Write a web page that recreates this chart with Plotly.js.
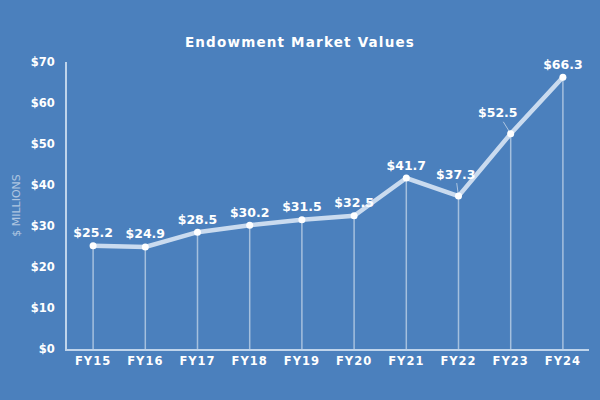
<!DOCTYPE html>
<html>
<head>
<meta charset="utf-8">
<script src="https://cdn.plot.ly/plotly-3.0.1.min.js"></script>
<style>
html,body{margin:0;padding:0;background:#4b80bd;}
#chart{width:600px;height:400px;}
#chart .gtitle{letter-spacing:1.2px;}
#chart .xtick text{letter-spacing:1px;}
</style>
</head>
<body>
<div id="chart"></div>
<script>
const categories = ["FY15","FY16","FY17","FY18","FY19","FY20","FY21","FY22","FY23","FY24"];
const values = [25.2, 24.9, 28.5, 30.2, 31.5, 32.5, 41.7, 37.3, 52.5, 66.3];
const yTickVals = [0,10,20,30,40,50,60,70];
const yTickText = yTickVals.map(v => "$" + v);
const calloutCats = ["FY22","FY23"];   // labels drawn with a leader line

const bg = "#4b80bd";
const labelFont = {family: "DejaVu Sans", size: 12.5, color: "#ffffff", weight: "bold"};
const labels = values.map(v => "$" + v.toFixed(1));

const trace = {
  type: "scatter",
  mode: "lines+markers+text",
  x: categories,
  y: values,
  line: {color: "rgba(225,235,248,0.85)", width: 4.5},
  marker: {color: "#ffffff", size: 7},
  text: labels.map((t, i) => calloutCats.includes(categories[i]) ? "" : t),
  textposition: "top center",
  textfont: labelFont,
  error_y: {
    type: "data", symmetric: false,
    array: values.map(() => 0),
    arrayminus: values,
    width: 0, thickness: 1.5,
    color: "rgba(255,255,255,0.5)"
  },
  hoverinfo: "skip",
  cliponaxis: false
};

const calloutOffsets = {FY22: [-3, -22], FY23: [-13, -21]};
const annotations = calloutCats.map(c => {
  const i = categories.indexOf(c);
  return {
    x: c, y: values[i], xref: "x", yref: "y",
    text: labels[i], font: labelFont,
    showarrow: true, arrowhead: 0, arrowwidth: 1,
    arrowcolor: "rgba(255,255,255,0.55)",
    ax: calloutOffsets[c][0], ay: calloutOffsets[c][1],
    standoff: 3
  };
});

const layout = {
  width: 600, height: 400,
  paper_bgcolor: bg, plot_bgcolor: bg,
  margin: {l: 67, r: 11, t: 62, b: 51},
  showlegend: false,
  annotations: annotations,
  title: {
    text: "Endowment Market Values",
    x: 0.5, xanchor: "center", y: 0.895, yanchor: "middle",
    font: {family: "DejaVu Sans", size: 13.5, color: "#ffffff", weight: "bold"}
  },
  xaxis: {
    type: "category",
    range: [-0.5, 9.5],
    showgrid: false, zeroline: false,
    showline: true, linecolor: "rgba(220,232,246,0.8)", linewidth: 2,
    ticks: "", ticklen: 0,
    tickfont: {family: "DejaVu Sans", size: 11.5, color: "#ffffff", weight: "bold"},
    fixedrange: true
  },
  yaxis: {
    range: [0, 70],
    tickvals: yTickVals, ticktext: yTickText,
    showgrid: false, zeroline: false,
    showline: true, linecolor: "rgba(220,232,246,0.8)", linewidth: 2,
    ticks: "", ticklen: 0, ticklabelstandoff: 8,
    tickfont: {family: "DejaVu Sans", size: 11.5, color: "#ffffff", weight: "bold"},
    title: {text: "$ MILLIONS", standoff: 8, font: {family: "DejaVu Sans", size: 11, color: "rgba(255,255,255,0.55)"}},
    fixedrange: true
  }
};

Plotly.newPlot("chart", [trace], layout, {displayModeBar: false, staticPlot: true});
</script>
</body>
</html>
